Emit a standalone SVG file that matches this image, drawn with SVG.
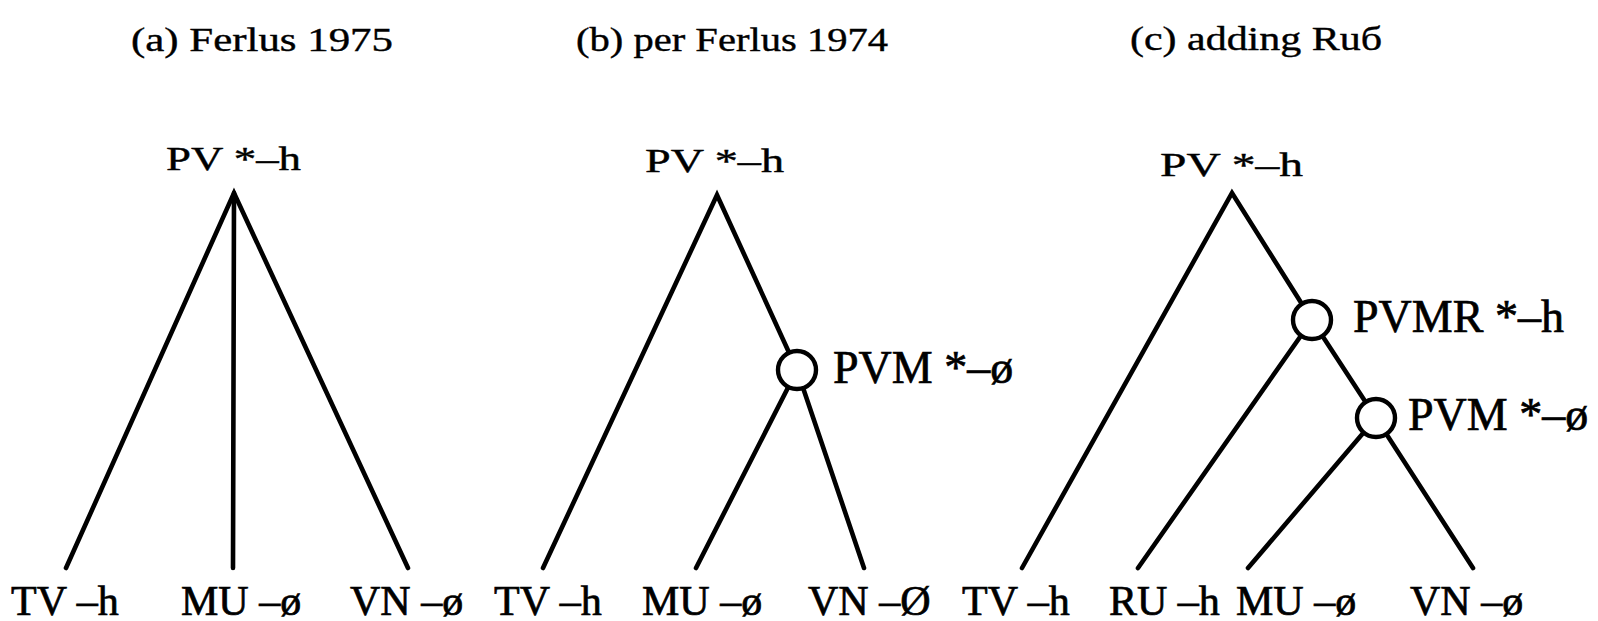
<svg xmlns="http://www.w3.org/2000/svg" width="1598" height="621" viewBox="0 0 1598 621">
<style>
text{font-family:"Liberation Serif","Times New Roman",serif;fill:#000;stroke:#000;stroke-width:0.7}
.t{font-size:34px;stroke-width:0.4}
.m{font-size:46px}
.b{font-size:42px}
.e{fill:none;stroke:#000;stroke-width:4.6;stroke-linecap:round;stroke-linejoin:miter}
.n{fill:#fff;stroke:#000;stroke-width:4.4}
</style>
<rect width="1598" height="621" fill="#fff"/>
<g id="titles">
<text class="t" x="131" y="51" textLength="262" lengthAdjust="spacingAndGlyphs">(a) Ferlus 1975</text>
<text class="t" x="576" y="51" textLength="312" lengthAdjust="spacingAndGlyphs">(b) per Ferlus 1974</text>
<text class="t" x="1130" y="50" textLength="252" lengthAdjust="spacingAndGlyphs">(c) adding Ruб</text>
</g>
<g id="connectors">
<polyline class="e" points="66,568 234,193 408,568"/>
<line class="e" x1="234" y1="193" x2="233" y2="568"/>
<polyline class="e" points="543,568 717,195 797,370"/>
<line class="e" x1="797" y1="370" x2="696" y2="568"/>
<line class="e" x1="797" y1="370" x2="864" y2="568"/>
<polyline class="e" points="1022,568 1232,193 1312,320"/>
<line class="e" x1="1312" y1="320" x2="1138" y2="568"/>
<line class="e" x1="1312" y1="320" x2="1376" y2="418"/>
<line class="e" x1="1376" y1="418" x2="1248" y2="568"/>
<line class="e" x1="1376" y1="418" x2="1473" y2="568"/>
</g>
<g id="a-root"><text class="t" x="166" y="170" textLength="135" lengthAdjust="spacingAndGlyphs">PV *–h</text></g>
<g id="a-tv"><text class="b" x="11" y="615">TV –h</text></g>
<g id="a-mu"><text class="b" x="181" y="615">MU –ø</text></g>
<g id="a-vn"><text class="b" x="350" y="615">VN –ø</text></g>
<g id="b-root"><text class="t" x="645" y="172" textLength="139" lengthAdjust="spacingAndGlyphs">PV *–h</text></g>
<g id="b-pvm"><circle class="n" cx="797" cy="370" r="19"/><text class="m" x="833" y="383">PVM *–ø</text></g>
<g id="b-tv"><text class="b" x="494" y="615">TV –h</text></g>
<g id="b-mu"><text class="b" x="642" y="615">MU –ø</text></g>
<g id="b-vn"><text class="b" x="808" y="615">VN –Ø</text></g>
<g id="c-root"><text class="t" x="1160" y="176" textLength="143" lengthAdjust="spacingAndGlyphs">PV *–h</text></g>
<g id="c-pvmr"><circle class="n" cx="1312" cy="320" r="19"/><text class="m" x="1353" y="332">PVMR *–h</text></g>
<g id="c-pvm"><circle class="n" cx="1376" cy="418" r="19"/><text class="m" x="1408" y="430">PVM *–ø</text></g>
<g id="c-tv"><text class="b" x="962" y="615">TV –h</text></g>
<g id="c-ru"><text class="b" x="1109" y="615">RU –h</text></g>
<g id="c-mu"><text class="b" x="1236" y="615">MU –ø</text></g>
<g id="c-vn"><text class="b" x="1410" y="615">VN –ø</text></g>
</svg>
